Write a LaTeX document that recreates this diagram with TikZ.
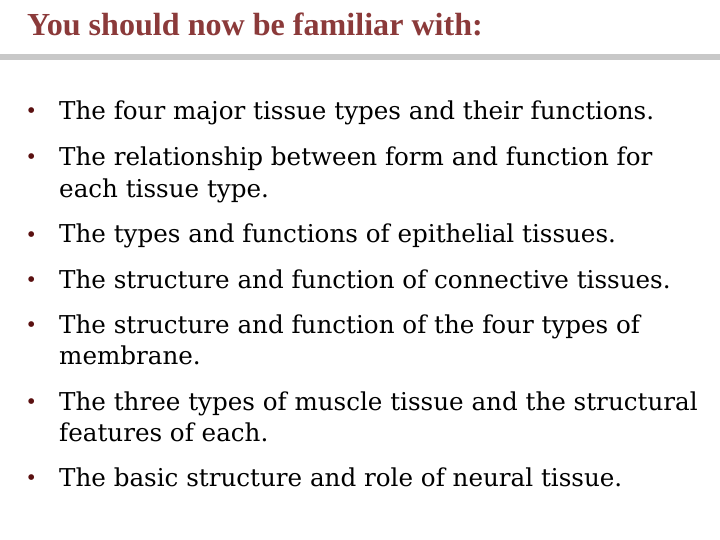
\documentclass[tikz,border=0pt]{standalone}
\usepackage{fontspec}
\setmainfont{Liberation Serif}
\newfontfamily\bodyfont{DejaVu Serif}
\definecolor{titlered}{HTML}{8B3A3A}
\definecolor{bulred}{HTML}{5A1010}
\definecolor{bargray}{HTML}{C8C8C8}
\begin{document}
\begin{tikzpicture}[x=1pt,y=-1pt,
  txt/.style={anchor=base west,inner sep=0pt,font=\bodyfont\fontsize{24.6}{29}\selectfont},
  bul/.style={anchor=base west,inner sep=0pt,text=bulred,font=\fontsize{24}{28}\selectfont}]
\useasboundingbox (0,0) rectangle (720,540);
\node[anchor=base west,inner sep=0pt,font=\fontsize{32.1}{36}\selectfont\bfseries,text=titlered] (title) at (27,36) {You should now be familiar with:};
\fill[bargray] (0,54) rectangle (720,60);
\foreach \y/\t [count=\i] in {
 120/{The four major tissue types and their functions.},
 166/{The relationship between form and function for},
 243/{The types and functions of epithelial tissues.},
 288/{The structure and function of connective tissues.},
 333/{The structure and function of the four types of},
 410/{The three types of muscle tissue and the structural},
 486/{The basic structure and role of neural tissue.}}
 {\node[bul] (b\i) at (27,\y-1) {•};
  \node[txt] (t\i) at (59,\y) {\t};}
\node[txt] (t2b) at (59,197) {each tissue type.};
\node[txt] (t5b) at (59,364) {membrane.};
\node[txt] (t6b) at (59,441) {features of each.};
\end{tikzpicture}
\end{document}
